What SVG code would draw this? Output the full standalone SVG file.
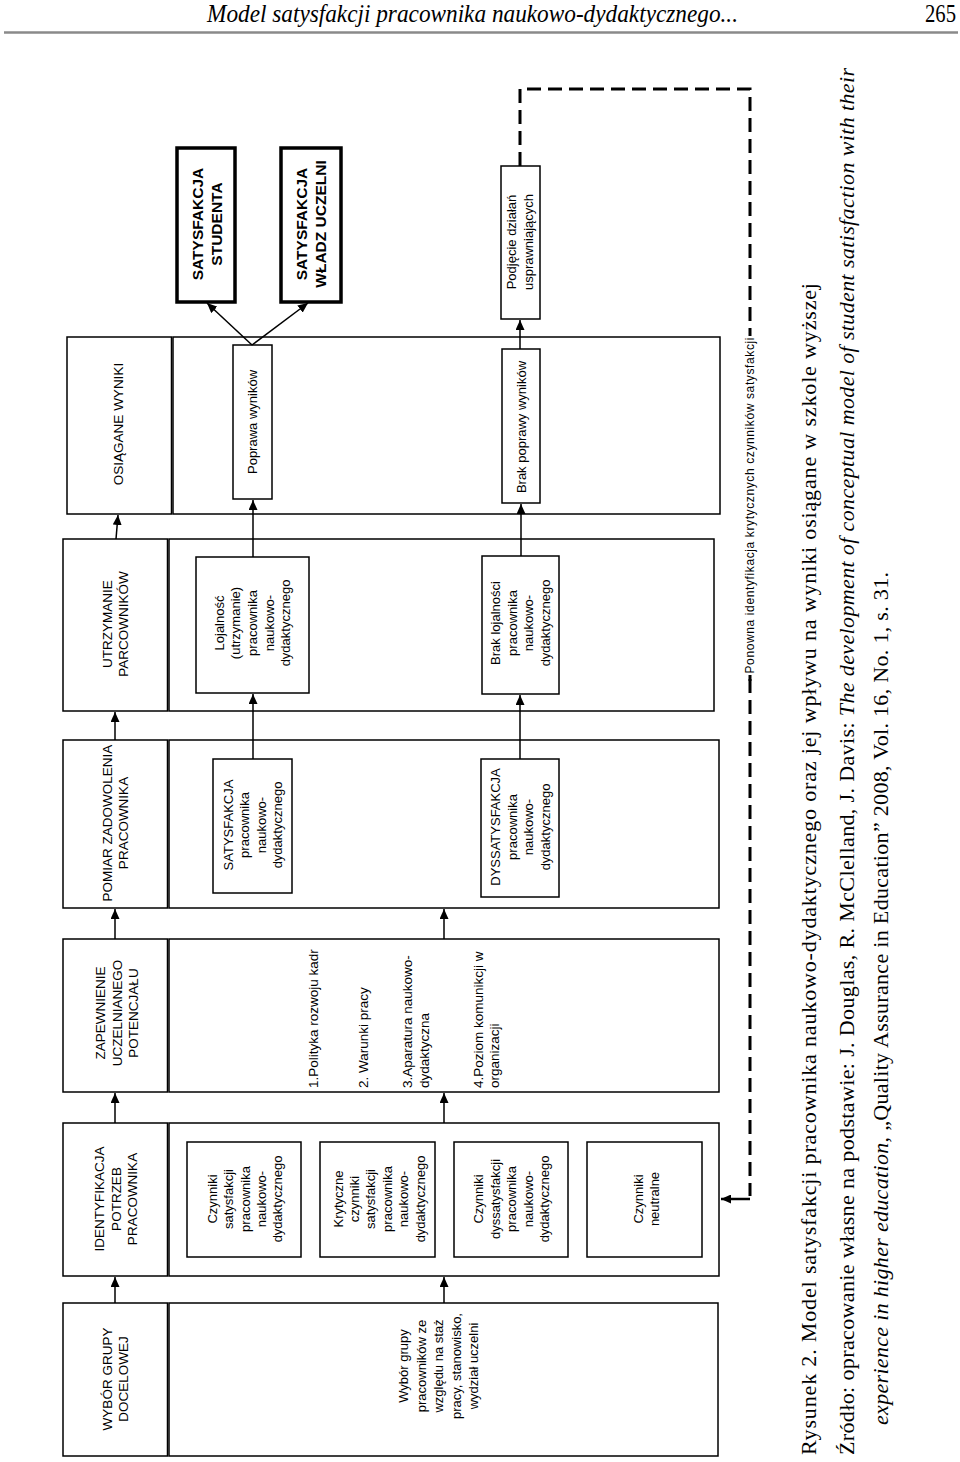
<svg xmlns="http://www.w3.org/2000/svg" width="960" height="1462" viewBox="0 0 960 1462">
<defs>
<marker id="ah" markerUnits="userSpaceOnUse" markerWidth="10" markerHeight="9" refX="10" refY="4.5" orient="auto" viewBox="0 0 10 9"><path d="M0,0 L10,4.5 L0,9 z" fill="#000"/></marker>
</defs>
<style>
.box{fill:#fff;stroke:#000;stroke-width:1.5}
.tb{fill:#fff;stroke:#000;stroke-width:3.5}
.s{font-family:"Liberation Sans",Arial,sans-serif;font-size:13px;fill:#000;text-anchor:middle;dominant-baseline:central}
text.s tspan{dominant-baseline:central}
.h{font-size:13.5px}
.st{text-anchor:start}
.bold{font-weight:bold;font-size:15.5px}
.a{stroke:#000;stroke-width:1.5;fill:none;marker-end:url(#ah)}
.d{stroke:#000;stroke-width:3;fill:none;stroke-dasharray:14 7}
.cap{font-family:"Liberation Serif","Times New Roman",serif;font-size:22px;fill:#000;dominant-baseline:central}
.hdr{font-family:"Liberation Serif","Times New Roman",serif;font-size:25px;fill:#000;font-style:italic}
</style>
<rect width="960" height="1462" fill="#fff"/>

<g id="page-header">
<text class="hdr" x="207" y="22" textLength="531" lengthAdjust="spacingAndGlyphs">Model satysfakcji pracownika naukowo-dydaktycznego...</text>
<text class="hdr" x="925" y="22" style="font-style:normal" textLength="31" lengthAdjust="spacingAndGlyphs">265</text>
<line x1="4" y1="32.5" x2="958" y2="32.5" stroke="#8a8a8a" stroke-width="2.5"/>
</g>

<!-- Band: WYBOR -->
<g id="hdr-wybor">
<rect class="box" x="63" y="1303" width="104.5" height="153"/>
<text class="s h" transform="translate(114.5,1379) rotate(-90)"><tspan x="0" y="-8">WYBÓR GRUPY</tspan><tspan x="0" y="8">DOCELOWEJ</tspan></text>
</g>
<g id="content-wybor">
<rect class="box" x="169" y="1303" width="549" height="153"/>
<text class="s" transform="translate(438,1366) rotate(-90)"><tspan x="0" y="-35">Wybór grupy</tspan><tspan x="0" y="-17.5">pracowników ze</tspan><tspan x="0" y="0">względu na staż</tspan><tspan x="0" y="17.5">pracy, stanowisko,</tspan><tspan x="0" y="35">wydział uczelni</tspan></text>
</g>

<!-- Band: IDENTYFIKACJA -->
<g id="hdr-identyfikacja">
<rect class="box" x="63" y="1123" width="104.5" height="153"/>
<text class="s h" transform="translate(115.7,1199) rotate(-90)"><tspan x="0" y="-16.5">IDENTYFIKACJA</tspan><tspan x="0" y="0">POTRZEB</tspan><tspan x="0" y="16.5">PRACOWNIKA</tspan></text>
</g>
<g id="content-identyfikacja">
<rect class="box" x="169" y="1123" width="550" height="153"/>
</g>
<g id="czynniki-satysfakcji">
<rect class="box" x="187" y="1142" width="114" height="115"/>
<text class="s" transform="translate(244.5,1199) rotate(-90)"><tspan x="0" y="-32.6">Czynniki</tspan><tspan x="0" y="-16.3">satysfakcji</tspan><tspan x="0" y="0">pracownika</tspan><tspan x="0" y="16.3">naukowo-</tspan><tspan x="0" y="32.6">dydaktycznego</tspan></text>
</g>
<g id="krytyczne-czynniki">
<rect class="box" x="320" y="1142" width="115" height="115"/>
<text class="s" transform="translate(378.5,1199) rotate(-90)"><tspan x="0" y="-41">Krytyczne</tspan><tspan x="0" y="-24.6">czynniki</tspan><tspan x="0" y="-8.2">satysfakcji</tspan><tspan x="0" y="8.2">pracownika</tspan><tspan x="0" y="24.6">naukowo-</tspan><tspan x="0" y="41">dydaktycznego</tspan></text>
</g>
<g id="czynniki-dyssatysfakcji">
<rect class="box" x="454" y="1142" width="114" height="115"/>
<text class="s" transform="translate(511,1199) rotate(-90)"><tspan x="0" y="-33">Czynniki</tspan><tspan x="0" y="-16.5">dyssatysfakcji</tspan><tspan x="0" y="0">pracownika</tspan><tspan x="0" y="16.5">naukowo-</tspan><tspan x="0" y="33">dydaktycznego</tspan></text>
</g>
<g id="czynniki-neutralne">
<rect class="box" x="587" y="1142" width="115" height="115"/>
<text class="s" transform="translate(646,1199) rotate(-90)"><tspan x="0" y="-8.3">Czynniki</tspan><tspan x="0" y="8.3">neutralne</tspan></text>
</g>

<!-- Band: ZAPEWNIENIE -->
<g id="hdr-zapewnienie">
<rect class="box" x="63" y="939" width="104.5" height="153"/>
<text class="s h" transform="translate(116.7,1013) rotate(-90)"><tspan x="0" y="-16.5">ZAPEWNIENIE</tspan><tspan x="0" y="0">UCZELNIANEGO</tspan><tspan x="0" y="16.5">POTENCJAŁU</tspan></text>
</g>
<g id="content-zapewnienie">
<rect class="box" x="169" y="939" width="550" height="153"/>
<text class="s h st" transform="translate(313,1088) rotate(-90)">1.Polityka rozwoju kadr</text>
<text class="s h st" transform="translate(363,1088) rotate(-90)">2. Warunki pracy</text>
<text class="s h st" transform="translate(407,1088) rotate(-90)">3.Aparatura naukowo-</text>
<text class="s h st" transform="translate(424.5,1088) rotate(-90)">dydaktyczna</text>
<text class="s h st" transform="translate(478,1088) rotate(-90)">4.Poziom komunikcji w</text>
<text class="s h st" transform="translate(494,1088) rotate(-90)">organizacji</text>
</g>

<!-- Band: POMIAR -->
<g id="hdr-pomiar">
<rect class="box" x="63" y="740" width="104.5" height="168"/>
<text class="s h" transform="translate(115,823) rotate(-90)"><tspan x="0" y="-8">POMIAR ZADOWOLENIA</tspan><tspan x="0" y="8">PRACOWNIKA</tspan></text>
</g>
<g id="content-pomiar">
<rect class="box" x="169" y="740" width="550" height="168"/>
</g>
<g id="satysfakcja-pracownika">
<rect class="box" x="213" y="759" width="79" height="134"/>
<text class="s" transform="translate(252.5,825) rotate(-90)"><tspan x="0" y="-24.75">SATYSFAKCJA</tspan><tspan x="0" y="-8.25">pracownika</tspan><tspan x="0" y="8.25">naukowo-</tspan><tspan x="0" y="24.75">dydaktycznego</tspan></text>
</g>
<g id="dyssatysfakcja-pracownika">
<rect class="box" x="481" y="759" width="78" height="138"/>
<text class="s" transform="translate(520,827) rotate(-90)"><tspan x="0" y="-24.75">DYSSATYSFAKCJA</tspan><tspan x="0" y="-8.25">pracownika</tspan><tspan x="0" y="8.25">naukowo-</tspan><tspan x="0" y="24.75">dydaktycznego</tspan></text>
</g>

<!-- Band: UTRZYMANIE -->
<g id="hdr-utrzymanie">
<rect class="box" x="63" y="539" width="104.5" height="172"/>
<text class="s h" transform="translate(115,624) rotate(-90)"><tspan x="0" y="-8">UTRZYMANIE</tspan><tspan x="0" y="8">PARCOWNIKÓW</tspan></text>
</g>
<g id="content-utrzymanie">
<rect class="box" x="169" y="539" width="545" height="172"/>
</g>
<g id="lojalnosc">
<rect class="box" x="196" y="557" width="113" height="136"/>
<text class="s" transform="translate(252,623) rotate(-90)"><tspan x="0" y="-33.4">Lojalność</tspan><tspan x="0" y="-16.7">(utrzymanie)</tspan><tspan x="0" y="0">pracownika</tspan><tspan x="0" y="16.7">naukowo-</tspan><tspan x="0" y="33.4">dydaktycznego</tspan></text>
</g>
<g id="brak-lojalnosci">
<rect class="box" x="482" y="556" width="77" height="138"/>
<text class="s" transform="translate(520,623) rotate(-90)"><tspan x="0" y="-24.75">Brak lojalności</tspan><tspan x="0" y="-8.25">pracownika</tspan><tspan x="0" y="8.25">naukowo-</tspan><tspan x="0" y="24.75">dydaktycznego</tspan></text>
</g>

<!-- Band: OSIAGANE -->
<g id="hdr-osiagane">
<rect class="box" x="67" y="337" width="104.5" height="177"/>
<text class="s h" transform="translate(118,424) rotate(-90)">OSIĄGANE WYNIKI</text>
</g>
<g id="content-osiagane">
<rect class="box" x="173" y="337" width="547" height="177"/>
</g>
<g id="poprawa-wynikow">
<rect class="box" x="233" y="345" width="39" height="154"/>
<text class="s" transform="translate(252.5,422) rotate(-90)">Poprawa wyników</text>
</g>
<g id="brak-poprawy">
<rect class="box" x="502" y="349" width="38" height="154"/>
<text class="s" transform="translate(521,427) rotate(-90)">Brak poprawy wyników</text>
</g>

<!-- Top -->
<g id="satysfakcja-studenta">
<rect class="tb" x="177" y="148" width="58" height="154"/>
<text class="s bold" transform="translate(206,224) rotate(-90)"><tspan x="0" y="-9.5">SATYSFAKCJA</tspan><tspan x="0" y="9.5">STUDENTA</tspan></text>
</g>
<g id="satysfakcja-wladz">
<rect class="tb" x="281" y="148" width="60" height="154"/>
<text class="s bold" transform="translate(310.5,224) rotate(-90)"><tspan x="0" y="-9.5">SATYSFAKCJA</tspan><tspan x="0" y="9.5">WŁADZ UCZELNI</tspan></text>
</g>
<g id="podjecie-dzialan">
<rect class="box" x="501" y="166" width="39" height="153"/>
<text class="s" transform="translate(519.5,242) rotate(-90)"><tspan x="0" y="-8.9">Podjęcie działań</tspan><tspan x="0" y="8.9">usprawniających</tspan></text>
</g>

<g id="connectors">
<line class="a" x1="115" y1="1303" x2="115" y2="1277"/>
<line class="a" x1="444" y1="1303" x2="444" y2="1277"/>
<line class="a" x1="115" y1="1123" x2="115" y2="1093"/>
<line class="a" x1="444" y1="1123" x2="444" y2="1093"/>
<line class="a" x1="115" y1="939" x2="115" y2="909"/>
<line class="a" x1="444" y1="939" x2="444" y2="909"/>
<line class="a" x1="115" y1="740" x2="115" y2="712"/>
<line class="a" x1="253" y1="759" x2="253" y2="694"/>
<line class="a" x1="520" y1="759" x2="520" y2="695"/>
<line class="a" x1="116" y1="539" x2="118" y2="515"/>
<line class="a" x1="253" y1="557" x2="253" y2="500"/>
<line class="a" x1="521" y1="556" x2="521" y2="504"/>
<line class="a" x1="252" y1="345" x2="207" y2="303"/>
<line class="a" x1="252" y1="345" x2="308" y2="303"/>
<line class="a" x1="520" y1="349" x2="520" y2="320"/>
<path class="d" d="M520,166 V89 H750 V331"/>
<path class="d" d="M750,679 V1196"/>
<line x1="750" y1="1199" x2="721" y2="1199" stroke="#000" stroke-width="2.5" marker-end="url(#ah)"/>
<line x1="750" y1="331" x2="750" y2="336" stroke="#000" stroke-width="3"/>
<line x1="750" y1="675" x2="750" y2="681" stroke="#000" stroke-width="3"/>
<text class="s" style="font-size:12px" transform="translate(750,505.5) rotate(-90)" textLength="336">Ponowna identyfikacja krytycznych czynników satysfakcji</text>
</g>

<g id="caption">
<text class="cap" transform="translate(808,1455) rotate(-90)" textLength="1172">Rysunek 2.  Model satysfakcji pracownika naukowo-dydaktycznego oraz jej wpływu na wyniki osiągane w szkole wyższej</text>
<text class="cap" transform="translate(846,1455) rotate(-90)" textLength="1387">Źródło: opracowanie własne na podstawie: J. Douglas, R. McClelland, J. Davis: <tspan font-style="italic">The development of conceptual model of student satisfaction with their</tspan></text>
<text class="cap" transform="translate(880,1425) rotate(-90)" textLength="853"><tspan font-style="italic">experience in higher education</tspan>, „Quality Assurance in Education” 2008, Vol. 16, No. 1, s. 31.</text>
</g>
</svg>
